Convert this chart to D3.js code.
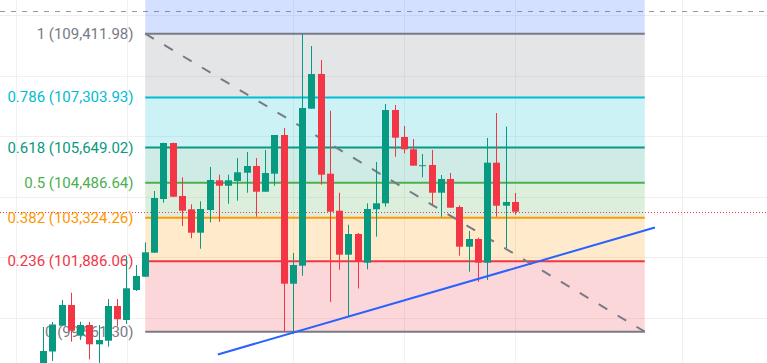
<!DOCTYPE html>
<html>
<head>
<meta charset="utf-8">
<script src="https://cdn.jsdelivr.net/npm/d3@7"></script>
<style>
  html, body { margin: 0; padding: 0; background: #ffffff; overflow: hidden; }
  svg { display: block; }
</style>
</head>
<body>
<svg id="chart" width="767" height="363"></svg>
<script>
// ---------------- DATA ----------------
// candle index 0..51 (bar positions)
const opens  = [98295, 98907, 99760,100444, 99429, 99783, 99145, 99264,100411, 99948,
               100940,101379,102173,103948,105799,104047,103607,102834,103584,104566,
               104387,104543,104817,105039,104189,104784,106063,101148,101743,106933,
               108080,104784,103561,102107,102791,101842,103607,103806,106890,105997,
               105591,105045,105072,104156,104609,103683,102371,102626,101842,105148,
               103726,103849];
const highs  = [ 99717, 99882,100609,100850, 99892, 99882, 99783,100642,100642,102064,
               101766,102516,104212,105809,105809,104665,103773,103872,105006,104751,
               104751,105303,105501,105303,105568,106063,106295,102163,109412,109005,
               108543,106867,104156,103098,102824,103806,105171,107088,107055,106361,
               105931,105435,105568,104741,104807,103740,102890,102669,105964,106791,
               106338,104146];
const lows   = [ 98130, 98593, 99750, 99231, 99287, 98649, 98361, 99066, 99750, 99816,
               100907,101369,102163,103825,104014,103055,102649,102305,103171,103197,
               103792,103892,104156,103363,104189,104387, 99574, 99485,101412,106933,
               104421,100543,101611,100070,100989,101624,102702,103693,105346,105458,
               105049,104665,103749,103363,103660,102074,101545,101214,101270,103363,
               102328,103429];
const closes = [ 98923, 99799,100444, 99594, 99783, 99145, 99287,100411, 99971,100996,
               101402,102186,103981,105799,104024,103561,102834,103617,104576,104387,
               104566,104830,105039,104189,104807,106063,101148,101766,106956,108080,
               104751,103528,102107,102791,101865,103617,103806,106890,105974,105591,
               105049,105065,104156,104609,103660,102371,102626,101842,105148,103726,
               103849,103528];

// Fibonacci retracement
const fibLow  = 99561.30;
const fibHigh = 109411.98;
const fibRatios = [1.618, 1, 0.786, 0.618, 0.5, 0.382, 0.236, 0];
const fibStartBar = 11;
const fibEndBar = 65;

// trend line (bar index, price)
const trendBars   = [18.85, 66.1];
const trendPrices = [98808, 103006];

// horizontal references
const dashedLinePrice = 110162;
const lastPrice = closes[closes.length - 1];

// grid
const gridPrices = [110000, 108000, 106000, 104000, 102000, 100000, 98000];
const gridBars = [-3, 9, 27, 39, 51, 69];

// ---------------- STYLE ----------------
const fibColors = {
  "1.618": "#2962ff", "1": "#787b86", "0.786": "#00bcd4", "0.618": "#089981",
  "0.5": "#4caf50", "0.382": "#ff9800", "0.236": "#f23645", "0": "#787b86"
};
const upColor = "#089981", downColor = "#f23645";
const W = 767, H = 363;
const fontFamily = "Roboto, 'Noto Sans', sans-serif";

// ---------------- SCALES ----------------
const x = d3.scaleLinear().domain([0, 51]).range([43.5, 43.5 + 51 * 9.25]);
const y = d3.scaleLinear().domain([fibLow, fibHigh]).range([331.7, 33.7]);

const svg = d3.select("#chart");
svg.append("rect").attr("width", W).attr("height", H).attr("fill", "#ffffff");

// grid
const grid = svg.append("g");
grid.selectAll("line.h").data(gridPrices).join("line")
  .attr("x1", 0).attr("x2", W)
  .attr("y1", d => Math.floor(y(d)) + 0.5).attr("y2", d => Math.floor(y(d)) + 0.5)
  .attr("stroke", "#f0f0f0").attr("stroke-width", 1);
grid.selectAll("line.v").data(gridBars).join("line")
  .attr("x1", d => Math.floor(x(d) + 0.5) + 0.5).attr("x2", d => Math.floor(x(d) + 0.5) + 0.5)
  .attr("y1", 0).attr("y2", H)
  .attr("stroke", "#f0f0f0").attr("stroke-width", 1);

// dashed top horizontal line
svg.append("line")
  .attr("x1", 0).attr("x2", W)
  .attr("y1", Math.floor(y(dashedLinePrice)) + 0.5).attr("y2", Math.floor(y(dashedLinePrice)) + 0.5)
  .attr("stroke", "#9598a1").attr("stroke-width", 1)
  .attr("stroke-dasharray", "5,6");

// fib bands
const fx0 = x(fibStartBar), fx1 = x(fibEndBar);
const levels = fibRatios.map(r => ({ r, price: fibLow + r * (fibHigh - fibLow) }));
const bands = d3.pairs(levels);
svg.append("g").selectAll("rect").data(bands).join("rect")
  .attr("x", fx0).attr("width", fx1 - fx0)
  .attr("y", d => y(d[0].price)).attr("height", d => y(d[1].price) - y(d[0].price))
  .attr("fill", d => fibColors[String(d[0].r === 1.618 ? 1.618 : d[1].r === 0 && false ? 0 : d[0].r)])
  .attr("fill-opacity", 0.2);

// current price dotted line
svg.append("line")
  .attr("x1", 0).attr("x2", W)
  .attr("y1", Math.round(y(lastPrice)) + 0.5).attr("y2", Math.round(y(lastPrice)) + 0.5)
  .attr("stroke", "#f23645").attr("stroke-width", 1)
  .attr("stroke-dasharray", "1,2");

// fib level lines
const shown = levels.filter(l => l.r <= 1);
svg.append("g").selectAll("line").data(shown).join("line")
  .attr("x1", fx0).attr("x2", fx1)
  .attr("y1", d => y(d.price)).attr("y2", d => y(d.price))
  .attr("stroke", d => fibColors[String(d.r)]).attr("stroke-width", 2);

// fib labels
const fmt = d3.format(",.2f");
svg.append("g").selectAll("text").data(shown).join("text")
  .attr("x", 133.5).attr("y", d => y(d.price))
  .attr("text-anchor", "end").attr("dominant-baseline", "central")
  .attr("font-family", fontFamily).attr("font-size", 15)
  .attr("fill", d => fibColors[String(d.r)])
  .text(d => `${d.r} (${fmt(d.price)})`);

// fib diagonal dashed line
svg.append("line")
  .attr("x1", fx0).attr("y1", y(fibHigh))
  .attr("x2", fx1).attr("y2", y(fibLow))
  .attr("stroke", "#787b86").attr("stroke-width", 2)
  .attr("stroke-dasharray", "10,12");

// candles
const bars = d3.range(opens.length).map(i => ({
  i, o: opens[i], h: highs[i], l: lows[i], c: closes[i]
}));
const cg = svg.append("g");
cg.selectAll("rect.wick").data(bars).join("rect")
  .attr("x", d => Math.round(x(d.i) - 3.5) + 3)
  .attr("width", 1)
  .attr("y", d => y(d.h))
  .attr("height", d => y(d.l) - y(d.h))
  .attr("fill", d => d.c >= d.o ? upColor : downColor);
cg.selectAll("rect.body").data(bars).join("rect")
  .attr("x", d => Math.round(x(d.i) - 3.5))
  .attr("width", 7)
  .attr("y", d => y(Math.max(d.o, d.c)))
  .attr("height", d => Math.max(1, Math.abs(y(d.o) - y(d.c))))
  .attr("fill", d => d.c >= d.o ? upColor : downColor);

// trend line
svg.append("line")
  .attr("x1", x(trendBars[0])).attr("y1", y(trendPrices[0]))
  .attr("x2", x(trendBars[1])).attr("y2", y(trendPrices[1]))
  .attr("stroke", "#2962ff").attr("stroke-width", 2);
</script>
</body>
</html>
